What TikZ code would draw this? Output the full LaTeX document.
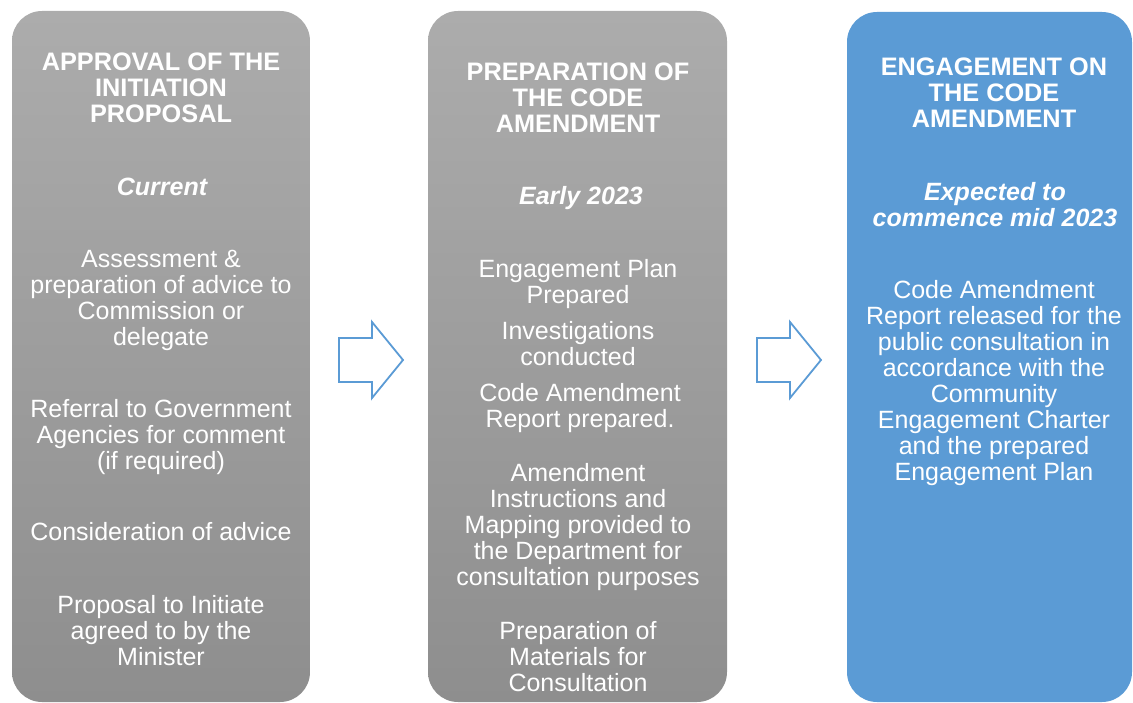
\documentclass[tikz,border=0pt]{standalone}
\usepackage{fontspec}
\setmainfont{Liberation Sans}
\definecolor{gtop}{HTML}{ACACAC}
\definecolor{gbot}{HTML}{8E8E8E}
\definecolor{bluebox}{HTML}{5B9BD5}
\definecolor{arrowblue}{HTML}{5B9BD5}
\begin{document}
\begin{tikzpicture}[x=1pt,y=-1pt,
  txt/.style={text=white, align=center, inner sep=0pt, anchor=north, font=\fontsize{25}{26}\selectfont},
  ttl/.style={txt, font=\fontsize{25.3}{26}\selectfont\bfseries},
  when/.style={txt, font=\fontsize{25}{26}\selectfont\bfseries\itshape},
  graybox/.style={rounded corners=30pt, top color=gtop, bottom color=gbot},
  bluebx/.style={rounded corners=30pt, fill=bluebox},
  blockarrow/.style={draw=arrowblue, line width=1.8pt, fill=white, line join=miter}]
\useasboundingbox (0,0) rectangle (1133,703);
% boxes
\shade[graybox] (12,11) rectangle (310,702);
\shade[graybox] (428,11) rectangle (727,702);
\fill[bluebx] (847,12) rectangle (1132,702);
% block arrows
\draw[blockarrow] (339,338) -- (372,338) -- (372,322) -- (403,360) -- (372,398) -- (372,382) -- (339,382) -- cycle;
\draw[blockarrow] (757,338) -- (790,338) -- (790,322) -- (821,360) -- (790,398) -- (790,382) -- (757,382) -- cycle;
% box 1
\node[ttl] (t1) at (161,52) {\strut APPROVAL OF THE\\INITIATION\\PROPOSAL};
\node[when] (w1) at (162,177) {\strut Current};
\node[txt] (a1) at (161,249) {\strut Assessment \&\\preparation of advice to\\Commission or\\delegate};
\node[txt] (a2) at (161,399) {\strut Referral to Government\\Agencies for comment\\(if required)};
\node[txt] (a3) at (161,522) {\strut Consideration of advice};
\node[txt] (a4) at (161,595) {\strut Proposal to Initiate\\agreed to by the\\Minister};
% box 2
\node[ttl] (t2) at (578,62) {\strut PREPARATION OF\\THE CODE\\AMENDMENT};
\node[when] (w2) at (581,186) {\strut Early 2023};
\node[txt] (b1) at (578,259) {\strut Engagement Plan\\Prepared};
\node[txt] (b2) at (578,321) {\strut Investigations\\conducted};
\node[txt] (b3) at (580,383) {\strut Code Amendment\\Report prepared.};
\node[txt] (b4) at (578,463) {\strut Amendment\\Instructions and\\Mapping provided to\\the Department for\\consultation purposes};
\node[txt] (b5) at (578,621) {\strut Preparation of\\Materials for\\Consultation};
% box 3
\node[ttl] (t3) at (994,57) {\strut ENGAGEMENT ON\\THE CODE\\AMENDMENT};
\node[when] (w3) at (995,182) {\strut Expected to\\commence mid 2023};
\node[txt] (c1) at (994,280) {\strut Code Amendment\\Report released for the\\public consultation in\\accordance with the\\Community\\Engagement Charter\\and the prepared\\Engagement Plan};
\end{tikzpicture}
\end{document}
